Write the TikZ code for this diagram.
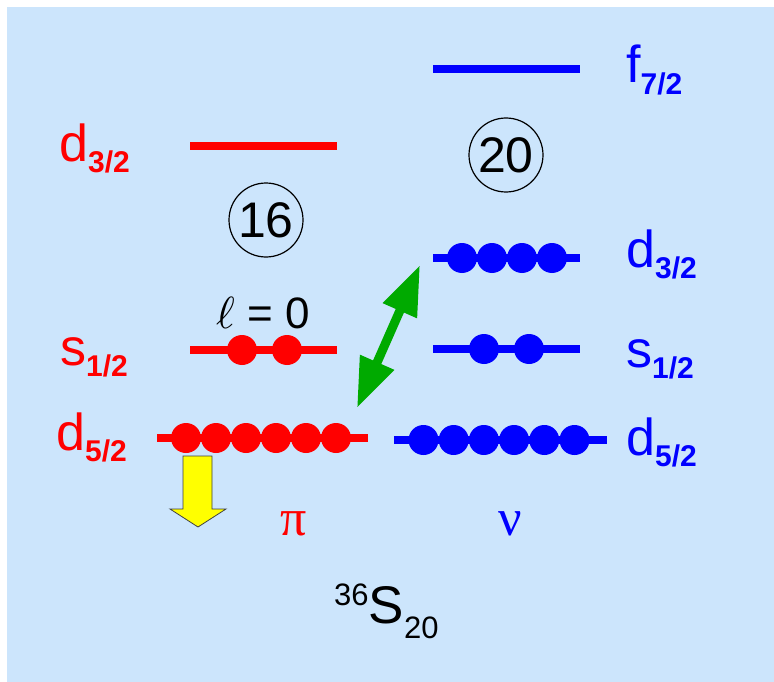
\documentclass[tikz,border=0pt]{standalone}
\usepackage{graphicx}
\usepackage{fontspec}
\setmainfont{Liberation Sans}
\newfontfamily\greekfont{Liberation Serif}
\usetikzlibrary{arrows.meta}
\definecolor{bgblue}{RGB}{204,229,252}
\definecolor{pired}{RGB}{255,0,0}
\definecolor{nublue}{RGB}{0,0,255}
\definecolor{swapgreen}{RGB}{0,170,0}
\definecolor{pushyellow}{RGB}{255,255,0}

\newcommand{\orbit}[2]{{\fontsize{52}{52}\selectfont #1}\raisebox{-11.5pt}{\fontsize{30}{30}\selectfont\bfseries #2}}

\begin{document}
\begin{tikzpicture}[x=1pt, y=-1pt,
  shell/.style={line width=7.5pt},
  orb/.style={anchor=base west, inner sep=0pt},
  magic/.style={circle, draw=black, line width=1.2pt, minimum size=74pt, inner sep=0pt, font=\fontsize{50}{50}\selectfont},
  greek/.style={anchor=base, inner sep=0pt, font=\greekfont\fontsize{52}{52}\selectfont},
  exchange/.style={swapgreen, line width=9pt, {Triangle[length=50pt,width=35pt]}-{Triangle[length=50pt,width=35pt]}},
]
\useasboundingbox (0,0) rectangle (774,682);
\fill[bgblue] (7,7) rectangle (774,682);

% protons
\draw[shell, pired] (190,146) -- (337,146);
\draw[shell, pired] (190,350) -- (337,350);
\draw[shell, pired] (157,438) -- (368,438);
\foreach \x in {242,287} \fill[pired] (\x,350) circle (15);
\foreach \x in {186,216,...,336} \fill[pired] (\x,438) circle (15);

% neutrons
\draw[shell, nublue] (433,69) -- (580,69);
\draw[shell, nublue] (433,258) -- (580,258);
\draw[shell, nublue] (433,349) -- (580,349);
\draw[shell, nublue] (394,440) -- (607,440);
\foreach \x in {462,492,522,552} \fill[nublue] (\x,258) circle (15);
\foreach \x in {484,529} \fill[nublue] (\x,349) circle (15);
\foreach \x in {423.5,453.7,...,575} \fill[nublue] (\x,440) circle (15);

\node[orb, pired] (pd3) at (59,161) {\orbit{d}{3/2}};
\node[orb, pired] (ps1) at (60,365) {\orbit{s}{1/2}};
\node[orb, pired] (pd5) at (56,450) {\orbit{d}{5/2}};
\node[orb, nublue] (nf7) at (626,83) {\orbit{f}{7/2}};
\node[orb, nublue] (nd3) at (626,267) {\orbit{d}{3/2}};
\node[orb, nublue] (ns1) at (626,367) {\orbit{s}{1/2}};
\node[orb, nublue] (nd5) at (626,455) {\orbit{d}{5/2}};

\node[magic] (z16) at (266,220) {16};
\node[magic] (n20) at (506,155) {20};

\node[anchor=base west, inner sep=0pt, font=\fontsize{44}{44}\selectfont] (lzero) at (216,328)
  {{\fontsize{10}{12}\selectfont\scalebox{4.5}{$\ell$}} = 0};

\coordinate (lowtip) at (357,408);
\coordinate (hightip) at (420,265);
\draw[exchange] (lowtip) -- (hightip);

\draw[fill=pushyellow, draw=black!75, line width=0.8pt, line join=miter]
  (183,456) -- (212,456) -- (212,509) -- (226,509) -- (198,527) -- (170,509) -- (183,509) -- cycle;

\node[greek, pired] (pi) at (294,535) {π};
\node[greek, nublue] (nu) at (510,535) {ν};

\node[anchor=base west, inner sep=0pt] (s36) at (334,623)
  {\raisebox{18pt}{\fontsize{31}{31}\selectfont 36}{\fontsize{53}{53}\selectfont S}\raisebox{-15pt}{\fontsize{31}{31}\selectfont 20}};
\end{tikzpicture}
\end{document}
